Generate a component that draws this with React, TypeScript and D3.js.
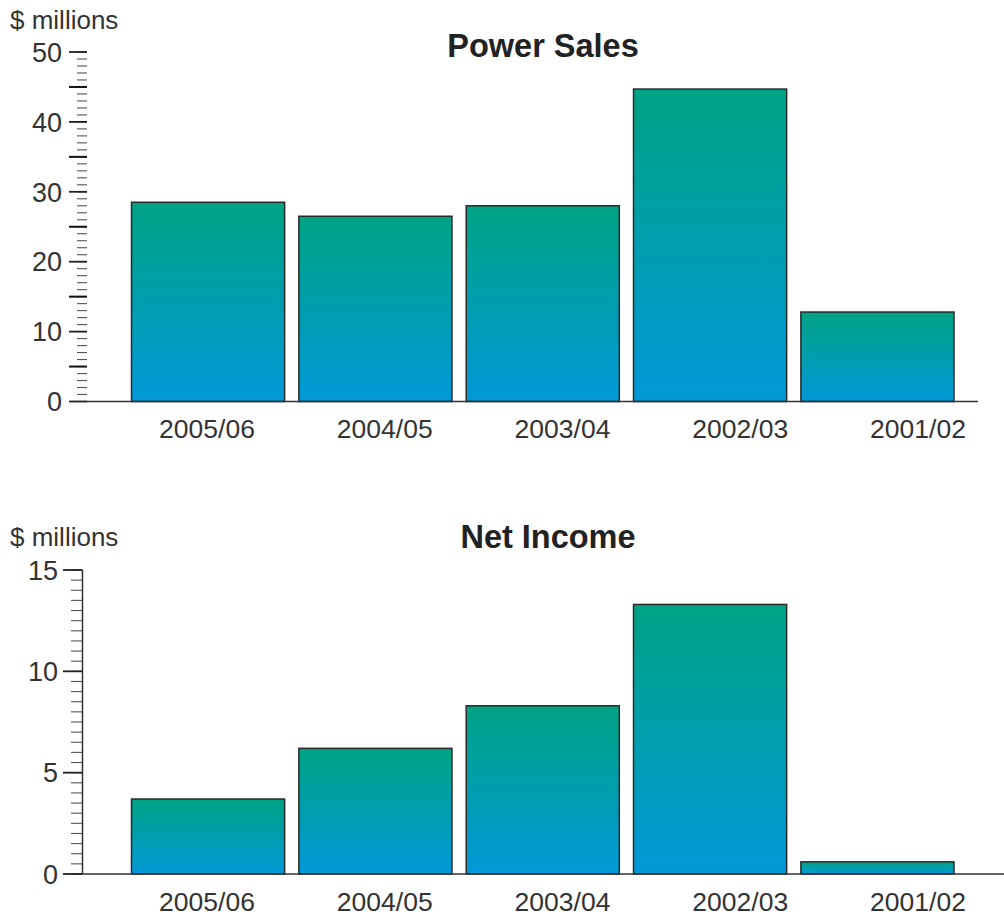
import * as d3 from "d3";
import React, { useRef, useEffect } from "react";

const years = ["2005/06", "2004/05", "2003/04", "2002/03", "2001/02"];
const powerSales = [28.5, 26.5, 28.0, 44.7, 12.8];
const netIncome = [3.7, 6.2, 8.3, 13.3, 0.6];
const salesTicks = [0, 10, 20, 30, 40, 50];
const incomeTicks = [0, 5, 10, 15];

const width = 1004;
const height = 920;
const font = "'Liberation Sans', Arial, Helvetica, sans-serif";

export default function App() {
  const ref = useRef(null);

  useEffect(() => {
    const svg = d3.select(ref.current);
    svg.selectAll("*").remove();

    // gradient for the bars (green top, blue bottom)
    const grad = svg
      .append("defs")
      .append("linearGradient")
      .attr("id", "barGrad")
      .attr("x1", 0)
      .attr("y1", 0)
      .attr("x2", 0)
      .attr("y2", 1);
    grad.append("stop").attr("offset", "0%").attr("stop-color", "#00a385");
    grad.append("stop").attr("offset", "100%").attr("stop-color", "#0099d8");

    var x = d3
      .scaleBand()
      .domain(years)
      .range([131.5, 954])
      .paddingInner(0.085)
      .paddingOuter(0);

    // category labels sit a bit right of the bars in the original
    var labelX = d3
      .scalePoint()
      .domain(years)
      .range([207, 918]);

    function drawChart(opts: any) {
      const { values, ticks, max, y0, y1, title, titleX, titleY, unitY, labelY, minorStep, mid, axis } = opts;
      const g = svg.append("g");
      const y = d3.scaleLinear().domain([0, max]).range([y0, y1]);

      // unit label
      g.append("text")
        .attr("x", 10)
        .attr("y", unitY)
        .style("font-family", font)
        .style("font-size", "26px")
        .attr("fill", "#333")
        .text("$ millions");

      // title
      g.append("text")
        .attr("x", titleX)
        .attr("y", titleY)
        .attr("text-anchor", "middle")
        .style("font-family", font)
        .style("font-size", "32.5px")
        .style("font-weight", "bold")
        .attr("fill", "#222")
        .text(title);

      // minor ticks
      const minor = d3.range(0, max + 0.001, minorStep);
      g.append("g")
        .selectAll("line")
        .data(minor)
        .join("line")
        .attr("x1", axis.minorX0)
        .attr("x2", axis.tickX1)
        .attr("y1", (d: number) => y(d))
        .attr("y2", (d: number) => y(d))
        .attr("stroke", "#555")
        .attr("stroke-width", 1.1);

      // medium ticks (top chart only)
      if (mid) {
        g.append("g")
          .selectAll("line")
          .data(d3.range(5, max, 10))
          .join("line")
          .attr("x1", axis.majorX0)
          .attr("x2", axis.tickX1)
          .attr("y1", (d: number) => y(d))
          .attr("y2", (d: number) => y(d))
          .attr("stroke", "#111")
          .attr("stroke-width", 2);
      }

      // major ticks
      g.append("g")
        .selectAll("line")
        .data(ticks)
        .join("line")
        .attr("x1", axis.majorX0)
        .attr("x2", axis.tickX1)
        .attr("y1", (d: number) => y(d))
        .attr("y2", (d: number) => y(d))
        .attr("stroke", "#222")
        .attr("stroke-width", 1.8);

      // tick labels
      g.append("g")
        .selectAll("text")
        .data(ticks)
        .join("text")
        .attr("x", axis.labelX)
        .attr("y", (d: number) => y(d))
        .attr("dy", "0.36em")
        .attr("text-anchor", "end")
        .style("font-family", font)
        .style("font-size", "27px")
        .attr("fill", "#333")
        .text((d: number) => d);

      // vertical axis line
      if (axis.line) {
        g.append("line")
          .attr("x1", axis.tickX1)
          .attr("x2", axis.tickX1)
          .attr("y1", y(max))
          .attr("y2", y(0))
          .attr("stroke", "#333")
          .attr("stroke-width", 1.5);
      }

      // bars
      g.append("g")
        .selectAll("rect")
        .data(values)
        .join("rect")
        .attr("x", (d: number, i: number) => x(years[i]) as number)
        .attr("y", (d: number) => y(d))
        .attr("width", x.bandwidth())
        .attr("height", (d: number) => y(0) - y(d))
        .attr("fill", "url(#barGrad)")
        .attr("stroke", "#2a2a2a")
        .attr("stroke-width", 1.5);

      // baseline
      g.append("line")
        .attr("x1", axis.baseX0)
        .attr("x2", axis.baseX1)
        .attr("y1", y(0))
        .attr("y2", y(0))
        .attr("stroke", "#333")
        .attr("stroke-width", 1.5);

      // category labels
      g.append("g")
        .selectAll("text")
        .data(years)
        .join("text")
        .attr("x", (d: string) => labelX(d) as number)
        .attr("y", labelY)
        .attr("text-anchor", "middle")
        .style("font-family", font)
        .style("font-size", "26.5px")
        .attr("fill", "#333")
        .text((d: string) => d);
    }

    drawChart({
      values: powerSales,
      ticks: salesTicks,
      max: 50,
      y0: 401.5,
      y1: 52,
      title: "Power Sales",
      titleX: 543,
      titleY: 57,
      unitY: 29,
      labelY: 438,
      minorStep: 1,
      mid: true,
      axis: { majorX0: 69, minorX0: 77, tickX1: 87, labelX: 62, line: false, baseX0: 87, baseX1: 978 },
    });

    drawChart({
      values: netIncome,
      ticks: incomeTicks,
      max: 15,
      y0: 874,
      y1: 570,
      title: "Net Income",
      titleX: 548,
      titleY: 548,
      unitY: 546,
      labelY: 911,
      minorStep: 0.5,
      mid: false,
      axis: { majorX0: 63, minorX0: 71, tickX1: 82.5, labelX: 58, line: true, baseX0: 82, baseX1: 1004 },
    });
  }, []);

  return (
    <svg
      ref={ref}
      width={width}
      height={height}
      viewBox={`0 0 ${width} ${height}`}
      style={{ position: "absolute", left: 0, top: 0, background: "#fff" }}
    ></svg>
  );
}
